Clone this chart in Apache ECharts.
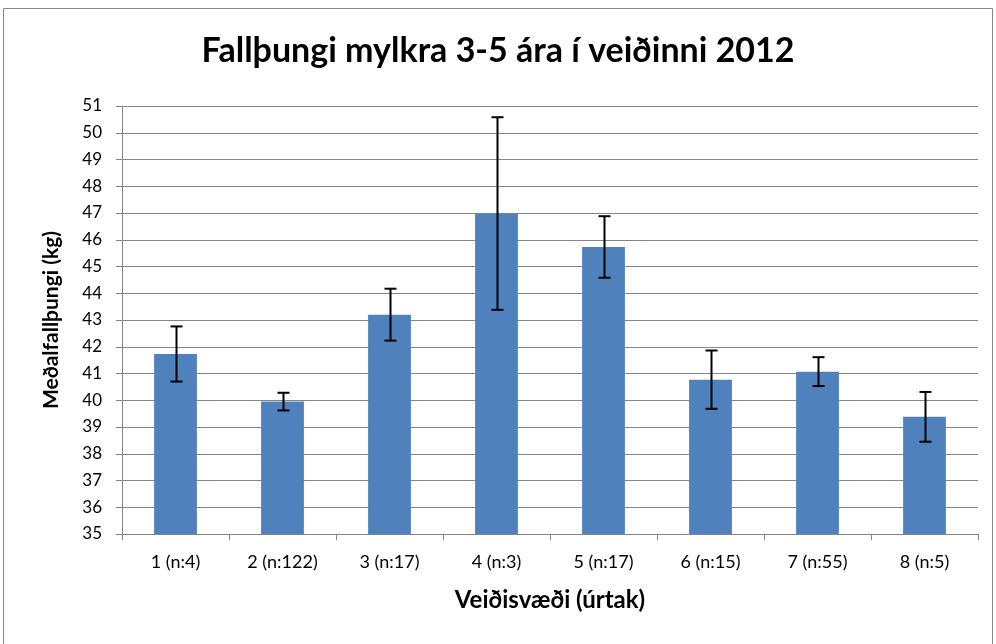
<!DOCTYPE html>
<html>
<head>
<meta charset="utf-8">
<script src="https://cdn.jsdelivr.net/npm/echarts@6/dist/echarts.min.js"></script>
<style>html,body{margin:0;padding:0;background:#fff;}#c{width:996px;height:644px;}</style>
</head>
<body>
<div id="c"></div>
<script>
const categories = ['1 (n:4)', '2 (n:122)', '3 (n:17)', '4 (n:3)', '5 (n:17)', '6 (n:15)', '7 (n:55)', '8 (n:5)'];
const means = [41.73, 39.95, 43.2, 46.98, 45.73, 40.77, 41.07, 39.38];
const errors = [1.03, 0.33, 0.97, 3.6, 1.15, 1.09, 0.54, 0.93];

const chart = echarts.init(document.getElementById('c'));
const font = 'Lato, "Open Sans", sans-serif';
chart.setOption({
  animation: false,
  backgroundColor: '#fff',
  title: {
    text: 'Fallþungi mylkra 3-5 ára í veiðinni 2012',
    left: 'center', top: 29,
    textStyle: { fontFamily: font, fontWeight: 'bold', fontSize: 34, color: '#000' }
  },
  graphic: [{
    type: 'rect', shape: { x: 3.5, y: 8.5, width: 989, height: 640 },
    style: { fill: null, stroke: '#868686', lineWidth: 1 }, silent: true
  }],
  grid: { left: 122, right: 18, top: 106, bottom: 110 },
  xAxis: {
    type: 'category', data: categories,
    name: 'Veiðisvæði (úrtak)', nameLocation: 'middle', nameGap: 54,
    nameTextStyle: { fontFamily: font, fontWeight: 'bold', fontSize: 24, color: '#000' },
    axisLine: { lineStyle: { color: '#868686', width: 1 } },
    axisTick: { show: true, length: 6, lineStyle: { color: '#868686' } },
    axisLabel: { fontFamily: font, fontSize: 18, color: '#000', margin: 19 }
  },
  yAxis: {
    type: 'value', min: 35, max: 51, interval: 1,
    name: 'Meðalfallþungi (kg)', nameLocation: 'middle', nameGap: 60,
    nameTextStyle: { fontFamily: font, fontWeight: 'bold', fontSize: 21, color: '#000' },
    axisLine: { show: true, lineStyle: { color: '#868686', width: 1 } },
    axisTick: { show: true, length: 6, inside: false, lineStyle: { color: '#868686' } },
    splitLine: { lineStyle: { color: '#868686', width: 1 } },
    axisLabel: { fontFamily: font, fontSize: 17, color: '#000', margin: 20 }
  },
  series: [
    {
      type: 'bar', data: means, barWidth: '40%',
      itemStyle: { color: '#4F81BD' }
    },
    {
      type: 'custom',
      data: means.map((m, i) => [i, m - errors[i], m + errors[i]]),
      renderItem: function (params, api) {
        const lo = api.coord([api.value(0), api.value(1)]);
        const hi = api.coord([api.value(0), api.value(2)]);
        const x = Math.round(lo[0]) + 0.5;
        const hw = 6;
        const st = { stroke: '#000', lineWidth: 2 };
        return {
          type: 'group',
          children: [
            { type: 'line', shape: { x1: x, y1: hi[1], x2: x, y2: lo[1] }, style: st },
            { type: 'line', shape: { x1: x - hw, y1: hi[1], x2: x + hw, y2: hi[1] }, style: st },
            { type: 'line', shape: { x1: x - hw, y1: lo[1], x2: x + hw, y2: lo[1] }, style: st }
          ]
        };
      },
      z: 10
    }
  ]
});
</script>
</body>
</html>
